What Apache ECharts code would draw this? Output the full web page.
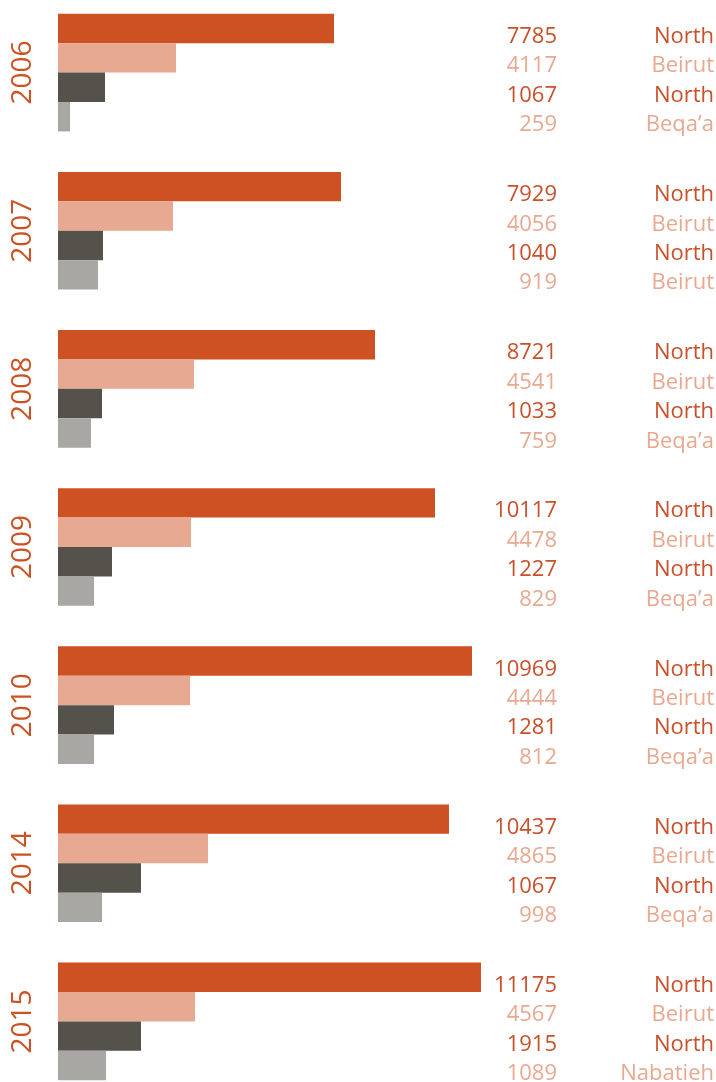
<!DOCTYPE html>
<html>
<head>
<meta charset="utf-8">
<script src="https://cdn.jsdelivr.net/npm/echarts@6/dist/echarts.min.js"></script>
<style>
  html, body { margin: 0; padding: 0; background: #fff; }
  #chart { width: 716px; height: 1082px; }
</style>
</head>
<body>
<div id="chart"></div>
<script>
// years (one group of four bars each)
const years = ['2006', '2007', '2008', '2009', '2010', '2014', '2015']

// printed numbers and regions, row by row
const firstCount = [7785, 7929, 8721, 10117, 10969, 10437, 11175]
const firstRegion = ['North', 'North', 'North', 'North', 'North', 'North', 'North']
const secondCount = [4117, 4056, 4541, 4478, 4444, 4865, 4567]
const secondRegion = ['Beirut', 'Beirut', 'Beirut', 'Beirut', 'Beirut', 'Beirut', 'Beirut']
const thirdCount = [1067, 1040, 1033, 1227, 1281, 1067, 1915]
const thirdRegion = ['North', 'North', 'North', 'North', 'North', 'North', 'North']
const fourthCount = [259, 919, 759, 829, 812, 998, 1089]
const fourthRegion = ['Beqa’a', 'Beirut', 'Beqa’a', 'Beqa’a', 'Beqa’a', 'Beqa’a', 'Nabatieh']

// bar lengths as drawn in the picture (they do not follow the printed numbers)
const firstBar = [276, 283, 317, 377, 414, 391, 423]
const secondBar = [118, 115, 136, 133, 132, 150, 137]
const thirdBar = [47, 45, 44, 54, 56, 83, 83]
const fourthBar = [12, 40, 33, 36, 36, 44, 48]

const orange = '#CD5122'
const salmon = '#E7A992'
const dark = '#55524B'
const grey = '#A8A7A3'

const chart = echarts.init(document.getElementById('chart'))

// label sits at a fixed x from the bar start, a bit below the bar middle
function rowLabel(counts, regions, color) {
  return {
    show: true,
    position: [382, 23],
    align: 'left',
    verticalAlign: 'middle',
    formatter: (p) => '{v|' + counts[p.dataIndex] + '}{r|' + regions[p.dataIndex] + '}',
    rich: {
      v: { width: 117, align: 'right', color: color, fontSize: 22, fontFamily: 'Open Sans' },
      r: { width: 157, align: 'right', color: color, fontSize: 22, fontFamily: 'Open Sans' }
    }
  }
}

function barSeries(name, data, color, label) {
  return {
    name: name,
    type: 'bar',
    data: data,
    barGap: 0,
    barCategoryGap: '25.6%',
    itemStyle: { color: color },
    label: label,
    silent: true
  }
}

const option = {
  animation: false,
  grid: {
    left: 58,
    top: -6.5,
    width: 600,
    height: 1107,
    outerBoundsMode: 'none',
    containLabel: false
  },
  xAxis: {
    type: 'value',
    min: 0,
    max: 600,
    show: false
  },
  yAxis: {
    type: 'category',
    data: years,
    inverse: true,
    axisLine: { show: false },
    axisTick: { show: false },
    axisLabel: {
      rotate: 90,
      margin: 21,
      color: orange,
      fontSize: 28,
      fontFamily: 'Open Sans'
    }
  },
  series: [
    barSeries('first', firstBar, orange, rowLabel(firstCount, firstRegion, '#C9502A')),
    barSeries('second', secondBar, salmon, rowLabel(secondCount, secondRegion, '#E8A990')),
    barSeries('third', thirdBar, dark, rowLabel(thirdCount, thirdRegion, '#C9502A')),
    barSeries('fourth', fourthBar, grey, rowLabel(fourthCount, fourthRegion, '#E8A990'))
  ]
}
chart.setOption(option)
</script>
</body>
</html>
